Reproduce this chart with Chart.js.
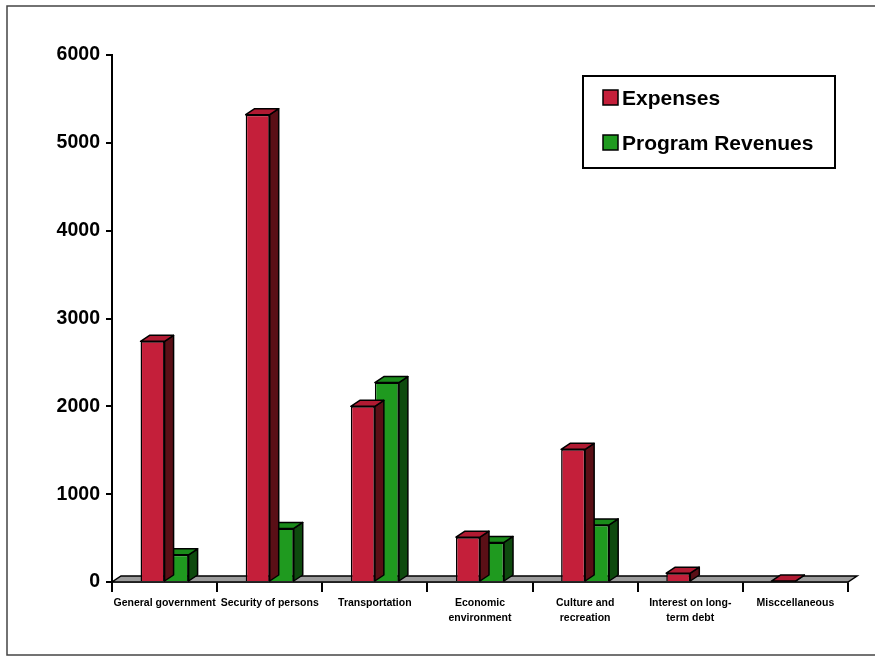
<!DOCTYPE html>
<html>
<head>
<meta charset="utf-8">
<script src="https://cdn.jsdelivr.net/npm/chart.js@4.4.1/dist/chart.umd.min.js"></script>
<style>
  html, body { margin: 0; padding: 0; background: #fff; }
  #wrap { width: 875px; height: 658px; }
</style>
</head>
<body>
<div id="wrap"><canvas id="grafico" width="875" height="658"></canvas></div>
<script>
// DATOS
const categorias = [
  'General government',
  'Security of persons',
  'Transportation',
  ['Economic', 'environment'],
  ['Culture and', 'recreation'],
  ['Interest on long-', 'term debt'],
  'Misccellaneous'
];
const gastos = [2740, 5320, 2000, 510, 1510, 100, 10];
const ingresos = [310, 610, 2270, 450, 650, 0, 0];
const etiquetasSeries = ['Expenses', 'Program Revenues'];
const ticksY = [0, 1000, 2000, 3000, 4000, 5000, 6000];

const FUENTE = "'Liberation Sans', Arial, sans-serif";
const DX = 9, DY = -6;
const caras = [
  { frente: '#c41f3a', lado: '#5a0f16', arriba: '#b01a32' },
  { frente: '#1f9a1f', lado: '#0e4a0e', arriba: '#1a8a1a' }
];

// piso gris bajo las barras
const piso = {
  id: 'piso',
  beforeDatasetsDraw(chart) {
    const { ctx, chartArea: a } = chart;
    ctx.save();
    ctx.beginPath();
    ctx.moveTo(a.left, a.bottom);
    ctx.lineTo(a.right, a.bottom);
    ctx.lineTo(a.right + DX, a.bottom + DY);
    ctx.lineTo(a.left + DX, a.bottom + DY);
    ctx.closePath();
    ctx.fillStyle = '#9c9c9c';
    ctx.fill();
    ctx.lineWidth = 1.5;
    ctx.strokeStyle = '#000';
    ctx.stroke();
    ctx.restore();
  }
};

// caras laterales y superiores de cada barra
const barras3d = {
  id: 'barras3d',
  afterDatasetDraw(chart, args) {
    const ctx = chart.ctx;
    const c = caras[args.index];
    const valores = chart.data.datasets[args.index].data;
    args.meta.data.forEach((bar, i) => {
      if (!valores[i]) return;
      const { x, y, base, width } = bar.getProps(['x', 'y', 'base', 'width'], true);
      const l = x - width / 2, r = x + width / 2;
      ctx.save();
      ctx.lineWidth = 1.5;
      ctx.strokeStyle = '#000';
      ctx.lineJoin = 'round';
      ctx.beginPath();
      ctx.moveTo(r, base);
      ctx.lineTo(r, y);
      ctx.lineTo(r + DX, y + DY);
      ctx.lineTo(r + DX, base + DY);
      ctx.closePath();
      ctx.fillStyle = c.lado;
      ctx.fill();
      ctx.stroke();
      ctx.beginPath();
      ctx.moveTo(l, y);
      ctx.lineTo(r, y);
      ctx.lineTo(r + DX, y + DY);
      ctx.lineTo(l + DX, y + DY);
      ctx.closePath();
      ctx.fillStyle = c.arriba;
      ctx.fill();
      ctx.stroke();
      ctx.restore();
    });
  }
};

// leyenda en recuadro y marco exterior
const leyenda = {
  id: 'leyenda',
  afterDraw(chart) {
    const ctx = chart.ctx;
    ctx.save();
    ctx.lineWidth = 2;
    ctx.strokeStyle = '#000';
    ctx.strokeRect(583, 76, 252, 92);
    ctx.font = 'bold 21px ' + FUENTE;
    ctx.textBaseline = 'alphabetic';
    chart.data.datasets.forEach((ds, i) => {
      const y = 90 + i * 45;
      ctx.fillStyle = ds.backgroundColor;
      ctx.fillRect(603, y, 15, 15);
      ctx.lineWidth = 1.5;
      ctx.strokeRect(603, y, 15, 15);
      ctx.fillStyle = '#000';
      ctx.fillText(ds.label, 622, y + 15);
    });
    ctx.lineWidth = 1.5;
    ctx.strokeStyle = '#444';
    ctx.strokeRect(7, 6, 880, 649);
    ctx.restore();
  }
};

new Chart(document.getElementById('grafico'), {
  type: 'bar',
  data: {
    labels: categorias,
    datasets: [
      { label: etiquetasSeries[0], data: gastos, backgroundColor: caras[0].frente },
      { label: etiquetasSeries[1], data: ingresos, backgroundColor: caras[1].frente }
    ]
  },
  options: {
    responsive: false,
    animation: false,
    devicePixelRatio: 1,
    layout: { padding: { left: 0, right: 27, top: 55, bottom: 0 } },
    datasets: {
      bar: {
        categoryPercentage: 0.457,
        barPercentage: 1,
        borderColor: '#000',
        borderWidth: 1.5
      }
    },
    plugins: {
      legend: { display: false },
      tooltip: { enabled: false }
    },
    scales: {
      y: {
        min: 0,
        max: 6000,
        afterFit: s => { s.width = 112; },
        afterBuildTicks: s => { s.ticks = ticksY.map(v => ({ value: v })); },
        border: { display: true, color: '#000', width: 2 },
        grid: { drawOnChartArea: false, drawTicks: true, tickLength: 6, color: '#000', lineWidth: 2 },
        ticks: {
          color: '#000',
          padding: 6,
          callback: v => String(v),
          font: { family: FUENTE, size: 19.5, weight: 'bold' }
        }
      },
      x: {
        afterFit: s => { s.height = 76; },
        border: { display: true, color: '#000', width: 1.5 },
        grid: { offset: true, drawOnChartArea: false, drawTicks: true, tickLength: 10, color: '#000', lineWidth: 2 },
        ticks: {
          color: '#000',
          padding: 3,
          maxRotation: 0,
          autoSkip: false,
          font: { family: FUENTE, size: 10.5, weight: 'bold', lineHeight: 1.45 }
        }
      }
    }
  },
  plugins: [piso, barras3d, leyenda]
});
</script>
</body>
</html>
